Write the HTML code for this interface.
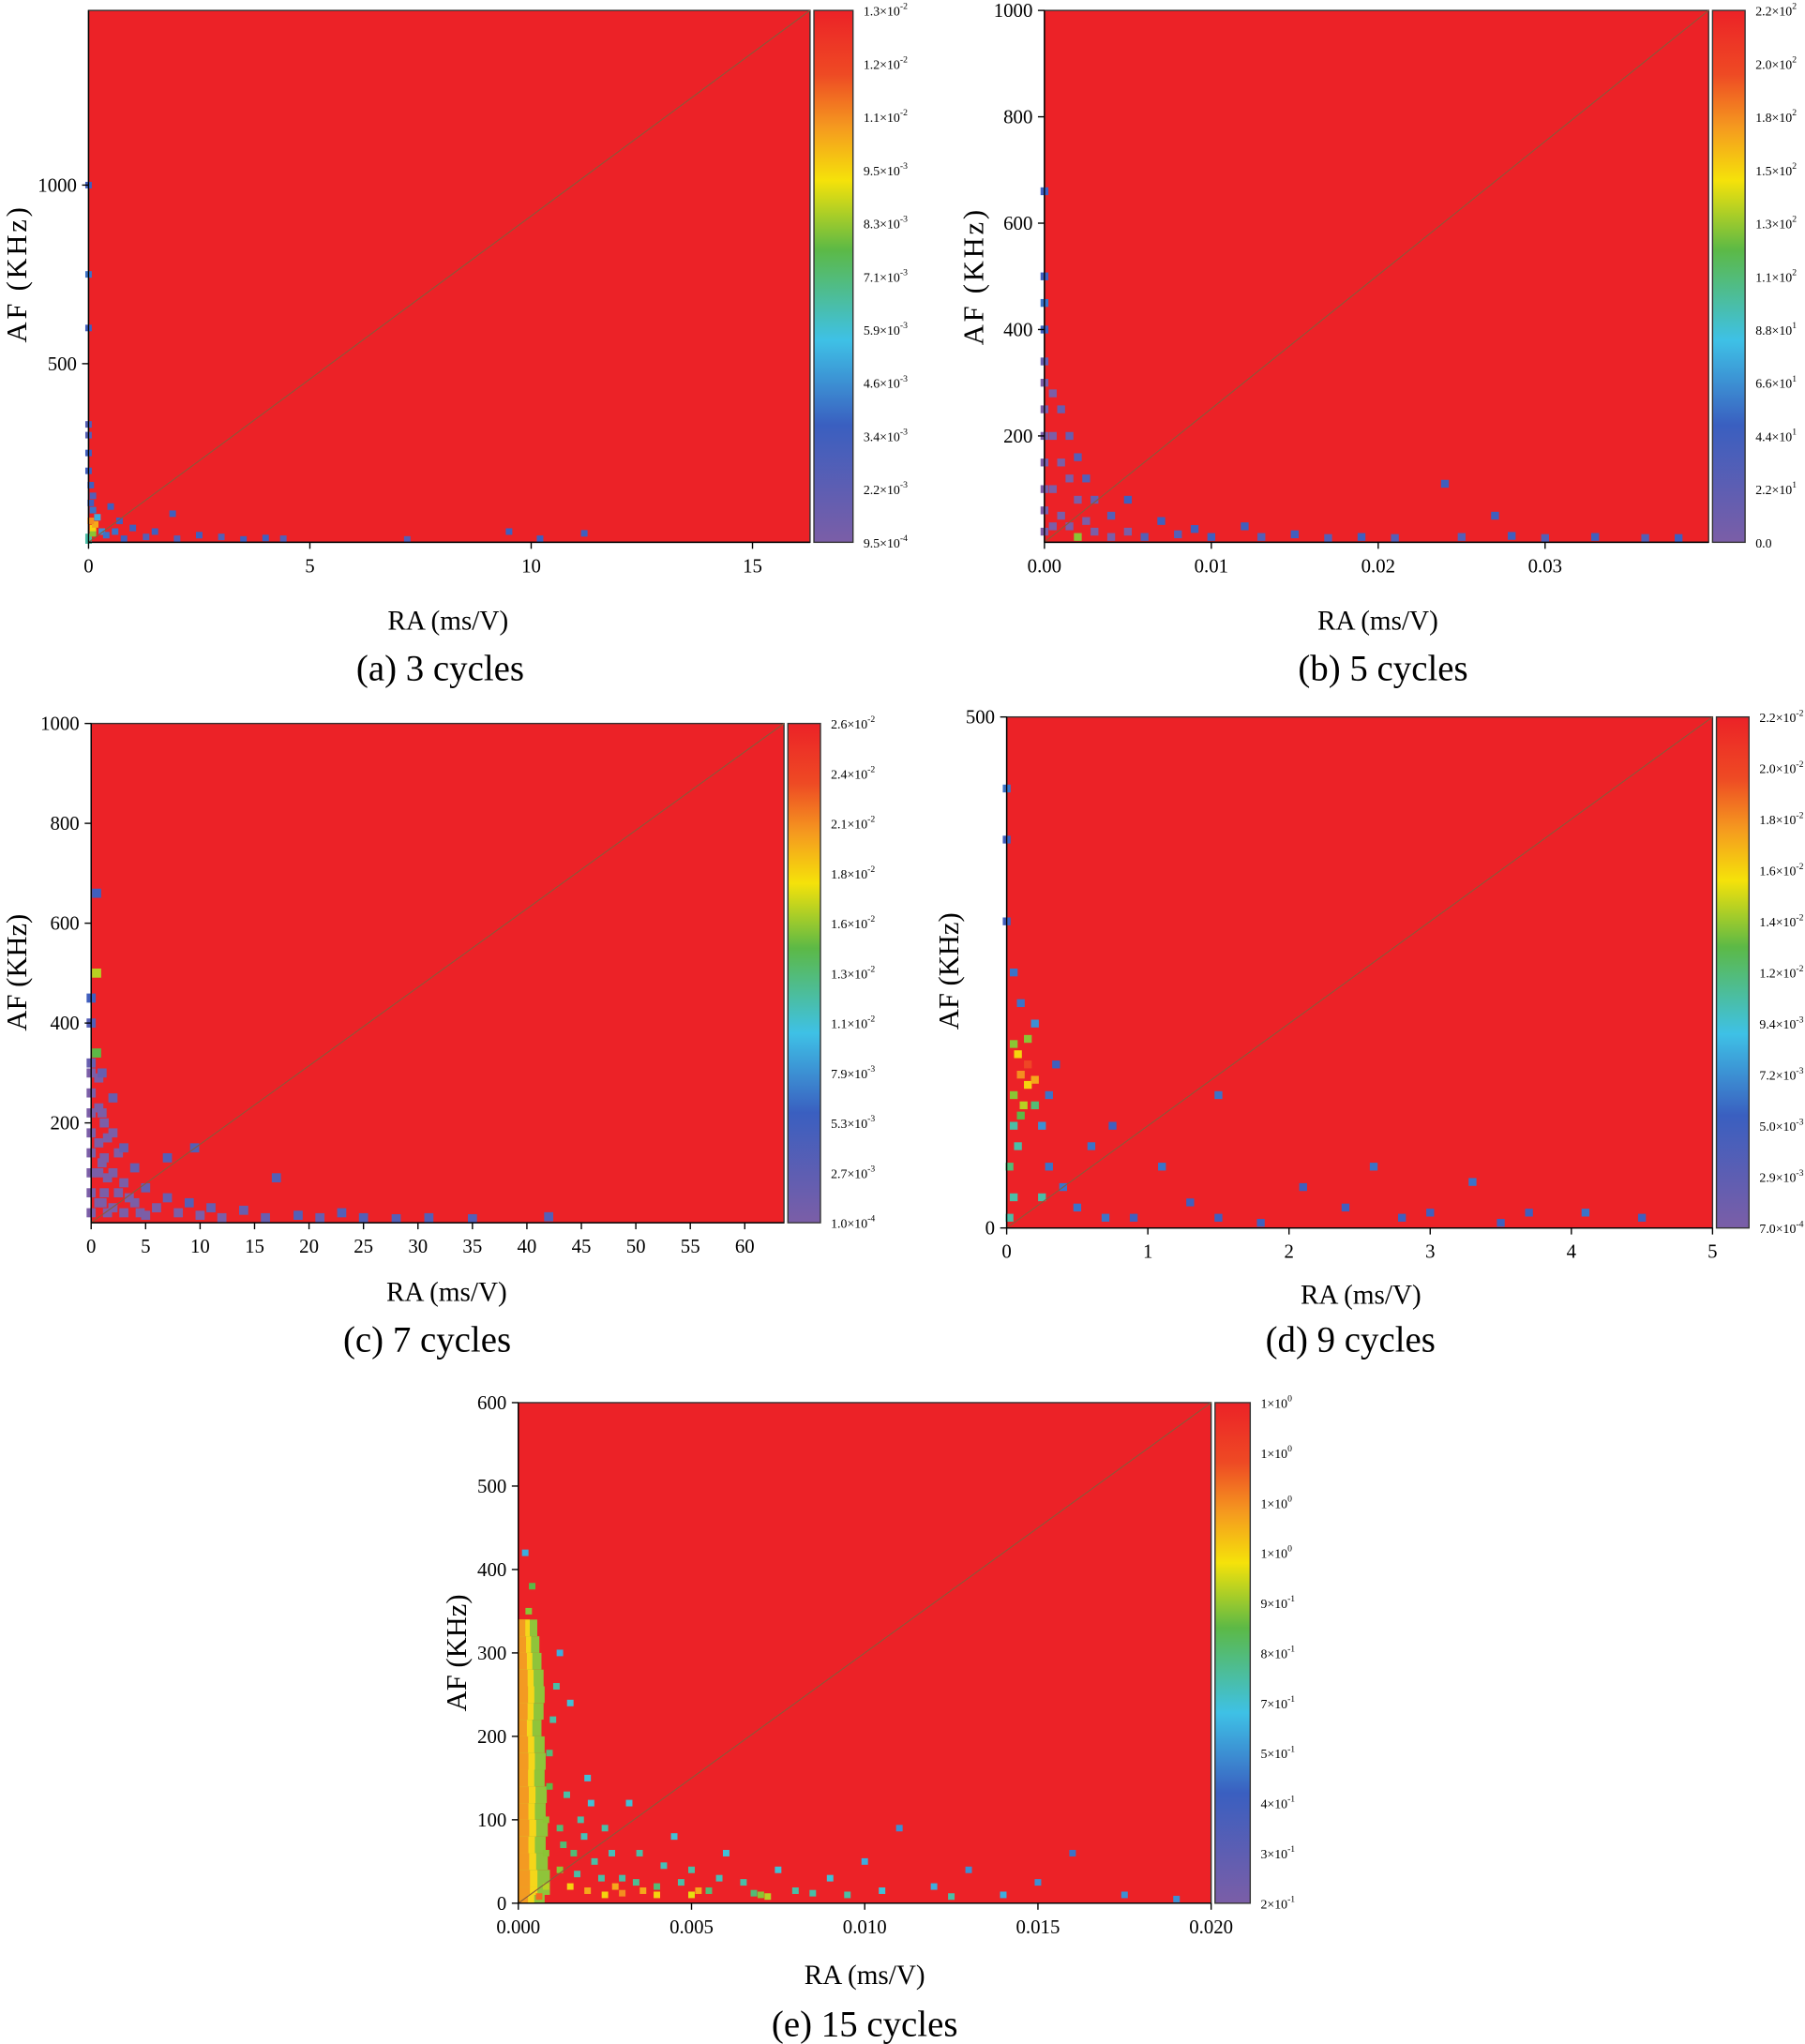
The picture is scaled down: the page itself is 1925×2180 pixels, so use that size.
<!DOCTYPE html>
<html><head><meta charset="utf-8"><style>
html,body{margin:0;padding:0;background:#fff;}
svg{display:block;font-family:"Liberation Serif",serif;}
</style></head><body>
<svg id="fig" width="1925" height="2180" viewBox="0 0 1386 1568" preserveAspectRatio="none" xmlns="http://www.w3.org/2000/svg">
<defs>
<linearGradient id="cb" x1="0" y1="0" x2="0" y2="1">
<stop offset="0" stop-color="#ec2227"/><stop offset="0.12" stop-color="#ee4a24"/>
<stop offset="0.22" stop-color="#f59a1f"/><stop offset="0.32" stop-color="#f5e20a"/>
<stop offset="0.45" stop-color="#5cb946"/><stop offset="0.62" stop-color="#3ec1e6"/>
<stop offset="0.78" stop-color="#3a5fc0"/><stop offset="1" stop-color="#7b5ea7"/>
</linearGradient>
</defs>
</svg>
<script>
// ---------- data ----------
const panelAXTicks=[0,5,10,15], panelAYTicks=[500,1000];
const panelACbar=[["1.3","-2"],["1.2","-2"],["1.1","-2"],["9.5","-3"],["8.3","-3"],["7.1","-3"],["5.9","-3"],["4.6","-3"],["3.4","-3"],["2.2","-3"],["9.5","-4"]];
const panelAPts=[[0,5,0.6],[0,15,0.6],[0.1,25,0.45],[0.1,40,0.3],[0.15,50,0.2],[0.05,60,0.15],[0.2,70,0.7],[0.3,30,0.75],[0.1,90,0.8],[0.05,110,0.85],[0.1,130,0.9],[0.05,160,0.85],[0,200,0.85],[0,250,0.85],[0,300,0.9],[0,330,0.9],[0,600,0.85],[0,750,0.8],[0,1000,0.85],[0.4,20,0.8],[0.6,30,0.8],[0.8,10,0.85],[1.0,40,0.85],[1.3,15,0.9],[1.5,30,0.85],[2.0,10,0.9],[2.5,20,0.85],[3.0,15,0.9],[3.5,8,0.85],[4.0,12,0.85],[4.4,10,0.9],[7.2,8,0.9],[9.5,30,0.85],[10.2,10,0.85],[11.2,25,0.85],[1.9,80,0.85],[0.7,60,0.85],[0.5,100,0.85]];
const panelBXTicks=[0,0.01,0.02,0.03], panelBYTicks=[200,400,600,800,1000];
const panelBCbar=[["2.2","2"],["2.0","2"],["1.8","2"],["1.5","2"],["1.3","2"],["1.1","2"],["8.8","1"],["6.6","1"],["4.4","1"],["2.2","1"],["0.0",""]];
const panelBPts=[[0,20,1],[0,60,1],[0,100,1],[0,150,1],[0,200,1],[0,250,1],[0,300,1],[0,340,0.95],[0,400,0.85],[0,450,0.8],[0,500,0.85],[0,660,0.85],[0.0005,30,1],[0.0005,100,1],[0.0005,200,1],[0.0005,280,1],[0.001,50,1],[0.001,150,1],[0.001,250,0.95],[0.0015,30,1],[0.0015,120,1],[0.0015,200,0.95],[0.002,10,0.45],[0.002,80,1],[0.002,160,0.9],[0.0025,40,1],[0.0025,120,0.9],[0.003,20,1],[0.003,80,0.95],[0.004,10,1],[0.004,50,0.9],[0.005,20,1],[0.005,80,0.85],[0.006,10,0.9],[0.007,40,0.85],[0.008,15,0.9],[0.009,25,0.85],[0.01,10,0.85],[0.012,30,0.85],[0.013,10,0.9],[0.015,15,0.85],[0.017,8,0.9],[0.019,10,0.85],[0.021,8,0.9],[0.024,110,0.85],[0.025,10,0.9],[0.027,50,0.85],[0.028,12,0.85],[0.03,8,0.9],[0.033,10,0.85],[0.036,8,0.9],[0.038,8,0.85]];
const panelCXTicks=[0,5,10,15,20,25,30,35,40,45,50,55,60], panelCYTicks=[200,400,600,800,1000];
const panelCCbar=[["2.6","-2"],["2.4","-2"],["2.1","-2"],["1.8","-2"],["1.6","-2"],["1.3","-2"],["1.1","-2"],["7.9","-3"],["5.3","-3"],["2.7","-3"],["1.0","-4"]];
const panelCPts=[[0,20,1],[0,60,1],[0,100,1],[0,140,1],[0,180,1],[0,220,1],[0,260,1],[0,300,1],[0,320,0.95],[0.5,340,0.5],[0.5,500,0.4],[0,400,0.9],[0,450,0.85],[0.5,660,0.85],[0.7,40,1],[0.7,100,1],[0.7,160,1],[0.7,230,1],[0.7,290,1],[1.2,60,1],[1.2,130,1],[1.2,200,1],[1,40,1],[1,120,1],[1,220,1],[1,300,0.95],[1.5,20,1],[1.5,90,1],[1.5,170,1],[2,30,1],[2,100,1],[2,180,1],[2,250,0.95],[2.5,60,1],[2.5,140,1],[3,20,1],[3,80,1],[3,150,0.95],[3.5,50,1],[4,40,1],[4,110,0.95],[4.5,20,1],[5,15,1],[5,70,0.95],[6,30,1],[7,50,0.95],[8,20,1],[9,40,0.9],[10,15,1],[11,30,0.95],[12,10,1],[14,25,0.95],[16,10,0.95],[17,90,0.9],[19,15,0.9],[21,10,0.95],[23,20,0.9],[25,10,0.9],[28,8,0.9],[31,10,0.9],[35,8,0.9],[42,12,0.9],[9.5,150,0.9],[7,130,0.9]];
const panelDXTicks=[0,1,2,3,4,5], panelDYTicks=[0,500];
const panelDCbar=[["2.2","-2"],["2.0","-2"],["1.8","-2"],["1.6","-2"],["1.4","-2"],["1.2","-2"],["9.4","-3"],["7.2","-3"],["5.0","-3"],["2.9","-3"],["7.0","-4"]];
const panelDPts=[[0.02,10,0.6],[0.05,30,0.6],[0.02,60,0.55],[0.08,80,0.6],[0.05,100,0.6],[0.1,110,0.5],[0.05,130,0.45],[0.12,120,0.4],[0.15,140,0.3],[0.1,150,0.15],[0.2,145,0.2],[0.15,160,0.05],[0.08,170,0.3],[0.05,180,0.45],[0.15,185,0.45],[0.2,120,0.55],[0.25,100,0.75],[0.3,130,0.8],[0.3,60,0.8],[0.4,40,0.8],[0.2,200,0.75],[0.1,220,0.8],[0.05,250,0.8],[0,300,0.85],[0,380,0.85],[0,430,0.8],[0.5,20,0.8],[0.6,80,0.8],[0.7,10,0.8],[0.75,100,0.85],[0.9,10,0.85],[1.1,60,0.8],[1.3,25,0.85],[1.5,130,0.8],[1.5,10,0.85],[1.8,5,0.85],[2.1,40,0.85],[2.4,20,0.85],[2.6,60,0.8],[2.8,10,0.85],[3.0,15,0.85],[3.3,45,0.8],[3.5,5,0.85],[3.7,15,0.85],[4.1,15,0.8],[4.5,10,0.85],[0.35,160,0.85],[0.25,30,0.6]];
const panelEXTicks=[0,0.005,0.01,0.015,0.02], panelEYTicks=[0,100,200,300,400,500,600];
const panelECbar=[["1","0"],["1","0"],["1","0"],["1","0"],["9","-1"],["8","-1"],["7","-1"],["5","-1"],["4","-1"],["3","-1"],["2","-1"]];
const panelEBand=[[0,0.25],[10,0.3],[20,0.3],[40,0.28],[60,0.26],[80,0.28],[100,0.26],[120,0.27],[140,0.25],[160,0.26],[180,0.25],[200,0.22],[220,0.24],[240,0.25],[260,0.24],[280,0.22],[300,0.2],[320,0.18]];
const panelEPts=[[0.0008,20,0.4],[0.0008,60,0.45],[0.0008,100,0.45],[0.0009,140,0.5],[0.0009,180,0.55],[0.001,220,0.6],[0.0011,260,0.6],[0.0012,40,0.45],[0.0012,90,0.55],[0.0014,130,0.6],[0.0015,20,0.3],[0.0016,60,0.55],[0.0018,100,0.6],[0.002,15,0.2],[0.002,150,0.65],[0.0022,50,0.6],[0.0025,10,0.3],[0.0025,90,0.6],[0.003,30,0.6],[0.003,12,0.15],[0.0032,120,0.65],[0.0035,60,0.6],[0.004,20,0.55],[0.004,10,0.3],[0.0045,80,0.65],[0.005,40,0.6],[0.005,10,0.35],[0.0055,15,0.55],[0.006,60,0.65],[0.0065,25,0.6],[0.007,10,0.45],[0.0075,40,0.65],[0.008,15,0.6],[0.009,30,0.65],[0.0095,10,0.6],[0.01,50,0.7],[0.0105,15,0.65],[0.011,90,0.75],[0.012,20,0.7],[0.0125,8,0.6],[0.013,40,0.75],[0.014,10,0.7],[0.015,25,0.75],[0.016,60,0.8],[0.0175,10,0.75],[0.019,5,0.75],[0.0004,380,0.5],[0.0002,420,0.7],[0.0003,350,0.45],[0.0012,300,0.7],[0.0015,240,0.65],[0.0006,8,0.1],[0.0013,70,0.55],[0.0017,35,0.6],[0.0019,80,0.62],[0.0021,120,0.65],[0.0024,30,0.6],[0.0027,60,0.62],[0.0028,20,0.2],[0.0034,25,0.58],[0.0036,15,0.2],[0.0042,45,0.62],[0.0047,25,0.6],[0.0052,15,0.2],[0.0058,30,0.62],[0.0068,12,0.55],[0.0072,8,0.4],[0.0085,12,0.6]];

// ---------- drawing ----------
const NS="http://www.w3.org/2000/svg";
const svg=document.getElementById('fig');
const pal=[[236,34,39],[245,154,31],[245,226,10],[92,185,70],[62,193,230],[58,95,192],[123,94,167]];
function col(t){t=Math.max(0,Math.min(1,t));const f=t*(pal.length-1),i=Math.min(pal.length-2,Math.floor(f)),r=f-i;
 const c=pal[i].map((v,k)=>Math.round(v+(pal[i+1][k]-v)*r));return `rgb(${c})`;}
function mk(tag,at,parent){const e=document.createElementNS(NS,tag);for(const k in at)e.setAttribute(k,at[k]);(parent||svg).appendChild(e);return e;}
function fmt(v,d){return d==null?String(v):v.toFixed(d);}

function panel(o){
 const g=mk('g',{});
 
 
 const sx=v=>o.x0+(v-o.xmin)/(o.xmax-o.xmin)*(o.x1-o.x0);
 const sy=v=>o.y1-(v-o.ymin)/(o.ymax-o.ymin)*(o.y1-o.y0);
 const bg=mk('rect',{x:o.x0,y:o.y0,width:o.x1-o.x0,height:o.y1-o.y0,fill:'#ec2227',stroke:'#333','stroke-width':1},g);
 
 
 if(o.band){o.band.forEach(b=>{
  const w=(sx(o.xmin+o.bandW*b[1]*4)-o.x0);
  const r2=mk('rect',{x:o.x0,y:sy(b[0]+20),width:w*1.9,height:sy(b[0])-sy(b[0]+20),fill:'#8fc43a'},g);
  
  
  const r3=mk('rect',{x:o.x0,y:sy(b[0]+20),width:w*1.15,height:sy(b[0])-sy(b[0]+20),fill:'#f5d61a'},g);
  
  
  const r=mk('rect',{x:o.x0,y:sy(b[0]+20),width:w*0.7,height:sy(b[0])-sy(b[0]+20),fill:'#f39a22'},g);
  
  
 });}
 o.pts.forEach(p=>{
  const r=mk('rect',{x:sx(p[0])-o.cs/2,y:sy(p[1])-o.cs/2,width:o.cs,height:o.cs,fill:col(p[2])},g);
  
  
 });
 const dl=mk('line',{x1:o.x0,y1:o.y1,x2:o.x1,y2:o.y0,stroke:'#8a5a3a','stroke-width':0.8},g);
 
 
 mk('line',{x1:o.x0,y1:o.y0,x2:o.x0,y2:o.y1,stroke:'#000','stroke-width':1},g);
 mk('line',{x1:o.x0,y1:o.y1,x2:o.x1,y2:o.y1,stroke:'#000','stroke-width':1},g);
 o.xt.forEach(v=>{const x=sx(v);mk('line',{x1:x,y1:o.y1,x2:x,y2:o.y1+5,stroke:'#000'},g);
  const t=mk('text',{x:x,y:o.y1+23,'font-size':15,'text-anchor':'middle'},g);t.textContent=fmt(v,o.xd);
  
  });
 o.yt.forEach(v=>{const y=sy(v);mk('line',{x1:o.x0-5,y1:y,x2:o.x0,y2:y,stroke:'#000'},g);
  const t=mk('text',{x:o.x0-9,y:y+5,'font-size':15,'text-anchor':'end'},g);t.textContent=fmt(v);
  
  });
 const cb=mk('rect',{x:o.cx,y:o.y0,width:o.cw,height:o.y1-o.y0,fill:'url(#cb)',stroke:'#333','stroke-width':1},g);
 
 
 o.cbar.forEach((l,i)=>{const y=o.y0+i*(o.y1-o.y0)/(o.cbar.length-1);
  const t=mk('text',{x:o.cx+o.cw+8,y:y+4,'font-size':10},g);
  
  
  if(l[1]===''){t.textContent=l[0];}else{t.textContent=l[0]+'\u00d710';const s=mk('tspan',{dy:-5,'font-size':7},t);s.textContent=l[1];}});
 const ya=mk('text',{x:0,y:0,'font-size':22,'text-anchor':'middle',transform:`translate(${o.yl[0]},${o.yl[1]}) rotate(-90)`,'letter-spacing':o.ls||0},g);
 ya.textContent='AF (KHz)';
 
 
 const xa=mk('text',{x:o.xl[0],y:o.xl[1],'font-size':21,'text-anchor':'middle'},g);xa.textContent='RA (ms/V)';
 
 
 const cap=mk('text',{x:o.cap[0],y:o.cap[1],'font-size':28,'text-anchor':'middle'},g);cap.textContent=o.capText;
 
 
}
panel({name:'panel-a-3-cycles',x0:68,x1:622,y0:8,y1:416,xmin:0,xmax:16.3,ymin:0,ymax:1489,xt:panelAXTicks,yt:panelAYTicks,pts:panelAPts,cs:5,cx:625,cw:30,cbar:panelACbar,yl:[20,210],xl:[344,483],cap:[338,522],capText:'(a) 3 cycles',ls:2});
panel({name:'panel-b-5-cycles',x0:802,x1:1312,y0:8,y1:416,xmin:0,xmax:0.0398,ymin:0,ymax:1000,xt:panelBXTicks,yt:panelBYTicks,xd:2,pts:panelBPts,cs:6,cx:1315,cw:25,cbar:panelBCbar,yl:[755,212],xl:[1058,483],cap:[1062,522],capText:'(b) 5 cycles',ls:2});
panel({name:'panel-c-7-cycles',x0:70,x1:602,y0:555,y1:938,xmin:0,xmax:63.6,ymin:0,ymax:1000,xt:panelCXTicks,yt:panelCYTicks,pts:panelCPts,cs:7,cx:605,cw:25,cbar:panelCCbar,yl:[20,746],xl:[343,998],cap:[328,1037],capText:'(c) 7 cycles'});
panel({name:'panel-d-9-cycles',x0:773,x1:1315,y0:550,y1:942,xmin:0,xmax:5,ymin:0,ymax:500,xt:panelDXTicks,yt:panelDYTicks,pts:panelDPts,cs:6,cx:1318,cw:25,cbar:panelDCbar,yl:[736,745],xl:[1045,1000],cap:[1037,1037],capText:'(d) 9 cycles'});
panel({name:'panel-e-15-cycles',x0:398,x1:930,y0:1076,y1:1460,xmin:0,xmax:0.02,ymin:0,ymax:600,xt:panelEXTicks,yt:panelEYTicks,xd:3,pts:panelEPts,cs:5,cx:933,cw:27,cbar:panelECbar,yl:[358,1268],xl:[664,1522],cap:[664,1562],capText:'(e) 15 cycles',band:panelEBand,bandW:0.0004});
</script>
</body></html>
